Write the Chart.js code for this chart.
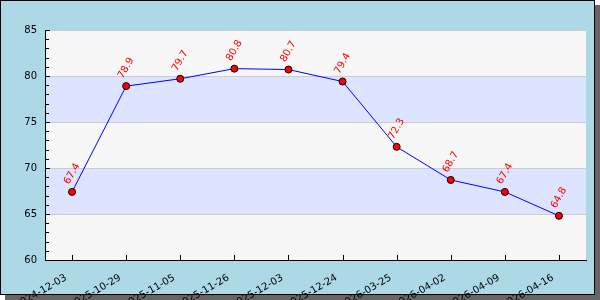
<!DOCTYPE html>
<html>
<head>
<meta charset="utf-8">
<script src="https://cdn.jsdelivr.net/npm/chart.js@4/dist/chart.umd.min.js"></script>
<style>
  body { margin: 0; background: #fff; }
</style>
</head>
<body>
<canvas id="chartDates" width="600" height="300"></canvas>
<script>
const dates = ['2024-12-03', '2025-10-29', '2025-11-05', '2025-11-26', '2025-12-03',
               '2025-12-24', '2026-03-25', '2026-04-02', '2026-04-09', '2026-04-16'];
const valores = [67.4, 78.9, 79.7, 80.8, 80.7, 79.4, 72.3, 68.7, 67.4, 64.8];
const yTicks = [60, 65, 70, 75, 80, 85];

// fondo, sombra y bandas alternas
const fondoPlugin = {
   id: 'fondo',
   beforeDraw(chart) {
      const ctx = chart.ctx;
      const area = chart.chartArea;
      const y = chart.scales.y;
      ctx.save();
      ctx.fillStyle = '#666666';
      ctx.fillRect(5, 5, 595, 295);
      ctx.fillStyle = '#add8e6';
      ctx.fillRect(0, 0, 595, 295);
      ctx.strokeStyle = '#000';
      ctx.lineWidth = 1;
      ctx.strokeRect(0.5, 0.5, 594, 294);
      for (let i = 0; i < yTicks.length - 1; i++) {
         const top = y.getPixelForValue(yTicks[i + 1]);
         const bottom = y.getPixelForValue(yTicks[i]);
         ctx.fillStyle = i % 2 === 0 ? '#f7f7f7' : '#dde4ff';
         ctx.fillRect(area.left, top, area.right - area.left, bottom - top);
      }
      ctx.restore();
   }
};

// ticks hacia dentro + etiquetas de valores
const marcasPlugin = {
   id: 'marcas',
   afterDraw(chart) {
      const ctx = chart.ctx;
      const area = chart.chartArea;
      const x = chart.scales.x;
      const y = chart.scales.y;
      ctx.save();
      ctx.strokeStyle = '#000';
      ctx.lineWidth = 1;
      ctx.beginPath();
      for (let v = yTicks[0]; v <= yTicks[yTicks.length - 1]; v++) {
         const py = Math.round(y.getPixelForValue(v)) + 0.5;
         const len = v % 5 === 0 ? 5 : 4;
         ctx.moveTo(area.left, py);
         ctx.lineTo(area.left + len, py);
      }
      dates.forEach((d, i) => {
         const px = Math.round(x.getPixelForValue(i)) + 0.5;
         ctx.moveTo(px, area.bottom);
         ctx.lineTo(px, area.bottom - 5);
      });
      ctx.stroke();

      const meta = chart.getDatasetMeta(0);
      ctx.fillStyle = '#ff0000';
      ctx.font = '10px "DejaVu Sans"';
      ctx.textAlign = 'center';
      ctx.textBaseline = 'middle';
      meta.data.forEach((pt, i) => {
         ctx.save();
         ctx.translate(pt.x, pt.y - 18);
         ctx.rotate(-60 * Math.PI / 180);
         ctx.fillText(valores[i].toFixed(1), 0, 0);
         ctx.restore();
      });
      ctx.restore();
   }
};

Chart.defaults.font.family = "'DejaVu Sans'";
Chart.defaults.font.size = 10;
Chart.defaults.color = '#000';

const ctx = document.getElementById('chartDates').getContext('2d');
const chartDates = new Chart(ctx, {
   type: 'line',
   data: {
      labels: dates,
      datasets: [{
         data: valores,
         borderColor: '#0000ff',
         borderWidth: 1,
         backgroundColor: '#ff0000',
         pointBackgroundColor: '#ff0000',
         pointBorderColor: '#000',
         pointBorderWidth: 1,
         pointRadius: 3.5,
         tension: 0,
         fill: false,
      }]
   },
   options: {
      responsive: false,
      animation: false,
      layout: {
         padding: { top: 30, right: 14, left: 0, bottom: 0 }
      },
      scales: {
         x: {
            offset: true,
            grid: { display: false, drawTicks: false },
            border: { display: true, color: '#000', width: 1 },
            ticks: {
               minRotation: 30,
               maxRotation: 30,
               autoSkip: false,
               padding: 12,
               labelOffset: -6,
               font: { size: 10 },
            },
            afterFit: scale => { scale.height = 40; }
         },
         y: {
            min: 60,
            max: 85,
            grid: { color: '#cccccc', drawTicks: false },
            border: { display: true, color: '#000', width: 1 },
            ticks: {
               stepSize: 5,
               padding: 8,
               font: { size: 10 },
            },
            afterFit: scale => { scale.width = 45; }
         }
      },
      plugins: {
         legend: { display: false },
         tooltip: { enabled: false },
         title: { display: false },
      }
   },
   plugins: [fondoPlugin, marcasPlugin]
});
</script>
</body>
</html>
